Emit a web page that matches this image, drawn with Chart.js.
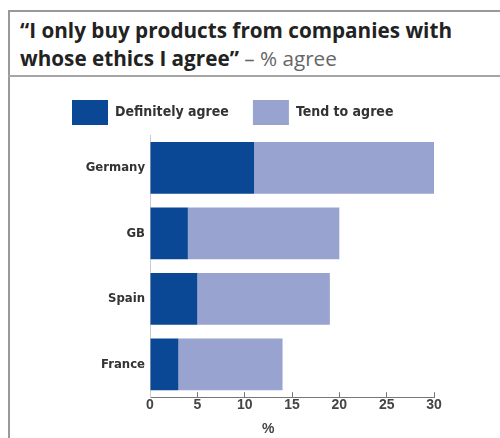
<!DOCTYPE html>
<html>
<head>
<meta charset="utf-8">
<script src="https://cdn.jsdelivr.net/npm/chart.js@4/dist/chart.umd.min.js"></script>
<style>
  body { margin: 0; background: #fff; }
  #wrap { position: relative; width: 500px; height: 438px; overflow: hidden; }
  #frame { position: absolute; left: 8px; top: 10px; right: -4px; bottom: -4px;
           border-left: 2px solid #999; border-top: 2px solid #999; }
  #rule { position: absolute; left: 8px; right: 0; top: 75px; border-top: 2px solid #a5a5a5; }
  #title { position: absolute; left: 20px; top: 16px; width: 478px;
           font: bold 20.7px "Open Sans", Lato, sans-serif; line-height: 28px; color: #222; }
  #title span { font-weight: normal; color: #666; }
  #unit { position: absolute; left: 262px; top: 420px; font: bold 14px "Liberation Sans", Arial, sans-serif; color: #444; }
  canvas { position: absolute; left: 0; top: 0; }
</style>
</head>
<body>
<div id="wrap">
  <div id="frame"></div>
  <div id="rule"></div>
  <div id="title">“I only buy products from companies with<br>whose ethics I agree” <span>– % agree</span></div>
  <canvas id="ethicsChart" width="500" height="438"></canvas>
  <div id="unit">%</div>
</div>
<script>
var countries = ["Germany", "GB", "Spain", "France"];
var definitelyAgree = [11, 4, 5, 3];
var tendToAgree = [19, 16, 14, 11];
var xTicks = [0, 5, 10, 15, 20, 25, 30];

var narrow = '"Liberation Sans Narrow", "DejaVu Sans Condensed", sans-serif';

var ethicsChart = new Chart(document.getElementById('ethicsChart'), {
  type: 'bar',
  data: {
    labels: countries,
    datasets: [
      {
        label: "Definitely agree",
        data: definitelyAgree,
        backgroundColor: "#0a4795",
        borderWidth: 0,
        barPercentage: 0.79,
        categoryPercentage: 1
      },
      {
        label: "Tend to agree",
        data: tendToAgree,
        backgroundColor: "#98a3cf",
        borderWidth: 0,
        barPercentage: 0.79,
        categoryPercentage: 1
      }
    ]
  },
  options: {
    indexAxis: 'y',
    responsive: false,
    animation: false,
    layout: { padding: { top: 76, left: 48, right: 66, bottom: 19 } },
    plugins: {
      tooltip: { enabled: false },
      legend: {
        position: 'top',
        align: 'start',
        labels: {
          boxWidth: 36,
          boxHeight: 25,
          padding: 24,
          color: '#333',
          font: { family: narrow, size: 14, weight: 'bold' }
        }
      }
    },
    scales: {
      x: {
        stacked: true,
        min: 0,
        max: 30,
        afterBuildTicks: function(scale) {
          scale.ticks = xTicks.map(function(v) { return { value: v }; });
        },
        grid: { drawOnChartArea: false, drawTicks: true, tickLength: -5, color: '#777' },
        border: { display: true, color: '#777', width: 1 },
        ticks: {
          padding: 5,
          color: '#444',
          font: { family: '"Liberation Sans", Arial, sans-serif', size: 14, weight: 'bold' }
        }
      },
      y: {
        stacked: true,
        afterFit: function(scale) { scale.width = 102; },
        grid: { display: false, drawTicks: false },
        border: { display: true, color: '#ccc', width: 1 },
        ticks: {
          padding: 5,
          color: '#333',
          font: { family: narrow, size: 13, weight: 'bold' }
        }
      }
    }
  }
});
</script>
</body>
</html>
